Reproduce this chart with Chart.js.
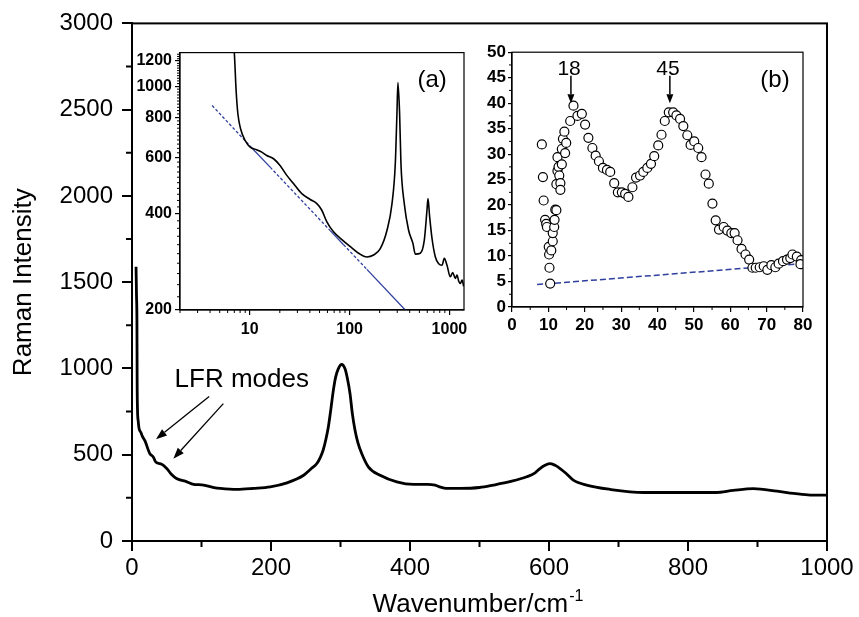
<!DOCTYPE html>
<html><head><meta charset="utf-8">
<script src="https://cdn.jsdelivr.net/npm/chart.js@4.4.1/dist/chart.umd.min.js"></script>
<style>
html,body{margin:0;padding:0;background:#fff;}
#wrap{position:relative;width:859px;height:617px;overflow:hidden;}
canvas{position:absolute;}
</style></head><body>
<div id="wrap">
<canvas id="main" width="859" height="617" style="left:0;top:0;width:859px;height:617px"></canvas>
<canvas id="insA" width="380" height="300" style="left:100px;top:40px;width:380px;height:300px"></canvas>
<canvas id="insB" width="380" height="300" style="left:460px;top:40px;width:380px;height:300px"></canvas>
</div>
<script>
// ---------------- DATA ----------------
// Main spectrum
const mainWavenumber = [5.8, 6.5, 7.1, 7.4, 7.9, 9, 10.1, 12.7, 14.8, 18.7, 25.4, 30.6, 34.5, 42.7, 50, 57, 64, 79, 87, 103, 118, 127, 151, 175, 199, 223, 247, 258, 266, 271, 275, 279, 282.5, 286, 289.7, 293, 296.8, 301.6, 306.5, 310, 313.7, 317, 320.9, 325, 330.5, 340, 357, 381, 405, 425, 436, 444, 452, 472, 500, 520, 545, 568, 580, 587, 595, 601.4, 608, 616, 625, 635, 654, 688, 736, 784, 840, 865, 894, 928, 952, 976, 1000];
const mainIntensity = [1590, 1420, 1273, 923, 763, 693, 653, 630, 608, 580, 508, 487, 456, 445, 420, 385, 362, 343, 330, 324, 310, 305, 299, 305, 314, 337, 381, 420, 449, 485, 526, 590, 661, 760, 873, 950, 998, 1023, 998, 940, 854, 740, 642, 570, 507, 430, 381, 343, 328, 328, 324, 312, 305, 305, 310, 324, 345, 372, 395, 420, 440, 449, 440, 420, 390, 353, 324, 299, 281, 281, 281, 293, 303, 289, 276, 266, 266];
const mainXTickValues = [0, 200, 400, 600, 800, 1000];
const mainXMinorTicks = [100, 300, 500, 700, 900];
const mainYTickValues = [0, 500, 1000, 1500, 2000, 2500, 3000];
const mainYMinorTicks = [250, 750, 1250, 1750, 2250, 2750];

// Inset (a): log-log spectrum and power-law fit line
const insetAWavenumber = [6.5, 7.0, 7.3, 7.6, 8.1, 9.0, 10.1, 11.7, 13.2, 14.8, 17.3, 20.1, 23.5, 27.4, 33.2, 40.3, 47.0, 52.7, 59.2, 69.0, 83.7, 101, 123, 149, 174, 203, 237, 266, 287, 298, 305, 317, 327, 353, 390, 431, 455, 511, 560, 596, 610, 634, 670, 723, 781, 843, 889, 946, 1021, 1080, 1146, 1191, 1240, 1286, 1340, 1389];
const insetAIntensity = [1600, 1273, 969, 821, 736, 677, 646, 634, 623, 608, 594, 566, 527, 497, 462, 443, 430, 410, 377, 351, 332, 316, 301, 293, 297, 311, 355, 430, 573, 821, 1028, 821, 573, 430, 355, 323, 299, 301, 330, 410, 446, 391, 334, 293, 279, 276, 290, 276, 254, 262, 251, 257, 246, 242, 248, 237];
const insetAFitWavenumber = [4.2, 10.1, 16, 64, 87, 149, 361];
const insetAFitIntensity = [871, 650, 559, 354, 320, 268, 200];
const insetAXTickValues = [10, 100, 1000];
const insetAXMinorTicks = [2, 3, 4, 5, 6, 7, 8, 9, 20, 30, 40, 50, 60, 70, 80, 90, 200, 300, 400, 500, 600, 700, 800, 900];
const insetAYTickValues = [200, 400, 600, 800, 1000, 1200];

// Inset (b): LFR intensity vs wavenumber
const insetBWavenumber = [8.2, 8.5, 8.7, 9.1, 9.4, 9.6, 10.1, 10.2, 10.3, 10.5, 10.8, 11.2, 11.2, 11.6, 11.7, 11.9, 12.2, 12.2, 12.5, 12.5, 12.8, 13.0, 13.3, 13.3, 13.7, 13.7, 14.0, 14.4, 14.6, 14.9, 16.0, 16.9, 18.0, 19.2, 20.1, 21.0, 22.1, 23.0, 23.9, 25.0, 26.1, 27.0, 28.1, 29.1, 30.2, 31.1, 32.0, 33.1, 34.1, 35.2, 36.1, 37.2, 38.2, 39.1, 40.2, 41.1, 42.0, 43.1, 44.3, 45.2, 46.2, 47.1, 48.2, 49.1, 50.1, 51.2, 52.1, 53.2, 54.1, 55.1, 56.0, 56.9, 58.2, 59.2, 60.3, 61.2, 62.0, 63.1, 64.2, 65.2, 66.1, 67.0, 68.1, 69.2, 70.2, 71.3, 72.4, 73.3, 74.5, 75.6, 76.5, 77.1, 78.3, 79.5, 79.3];
const insetBIntensity = [31.9, 25.5, 20.9, 17.1, 16.3, 15.7, 11.8, 10.3, 7.7, 4.6, 11.1, 12.9, 14.5, 15.7, 17.1, 19.1, 19.0, 24.1, 26.7, 29.4, 27.5, 25.8, 24.3, 23.0, 28.0, 31.0, 33.0, 34.4, 30.2, 32.2, 36.5, 39.5, 37.5, 37.9, 35.8, 33.2, 31.2, 29.7, 28.6, 27.3, 26.9, 26.5, 24.3, 22.5, 22.5, 22.2, 21.6, 23.5, 25.4, 25.8, 26.5, 27.3, 28.1, 29.6, 31.7, 33.8, 36.5, 38.2, 38.2, 37.6, 36.9, 35.5, 33.7, 31.8, 32.5, 31.2, 29.4, 26.0, 24.2, 20.3, 17.0, 15.2, 15.7, 15.0, 14.5, 14.5, 13.1, 11.4, 10.3, 9.3, 7.7, 7.7, 7.8, 8.0, 7.3, 8.2, 7.8, 8.5, 9.0, 9.3, 9.6, 10.3, 9.9, 9.2, 8.4];
const insetBBaseWavenumber = [6.9, 80];
const insetBBaseIntensity = [4.4, 8.5];
const insetBXTickValues = [0, 10, 20, 30, 40, 50, 60, 70, 80];
const insetBXMinorTicks = [5, 15, 25, 35, 45, 55, 65, 75];
const insetBYTickValues = [0, 5, 10, 15, 20, 25, 30, 35, 40, 45, 50];
const insetBYMinorTicks = [2.5, 7.5, 12.5, 17.5, 22.5, 27.5, 32.5, 37.5, 42.5, 47.5];
const peakLabels = ['18', '45'];
const peakPositions = [16.2, 43.4];

// ---------------- HELPERS ----------------
const FONT = "'Liberation Sans', Arial, Helvetica, sans-serif";
const pts = (xs, ys) => xs.map((x, i) => ({x: x, y: ys[i]}));

function drawArrow(ctx, x1, y1, x2, y2, head, halfW, lw) {
  const a = Math.atan2(y2 - y1, x2 - x1);
  const bx = x2 - head * Math.cos(a), by = y2 - head * Math.sin(a);
  ctx.save();
  ctx.strokeStyle = '#000'; ctx.fillStyle = '#000'; ctx.lineWidth = lw;
  ctx.beginPath(); ctx.moveTo(x1, y1); ctx.lineTo(bx, by); ctx.stroke();
  ctx.beginPath(); ctx.moveTo(x2, y2);
  ctx.lineTo(bx + halfW * Math.sin(a), by - halfW * Math.cos(a));
  ctx.lineTo(bx - halfW * Math.sin(a), by + halfW * Math.cos(a));
  ctx.closePath(); ctx.fill();
  ctx.restore();
}

function extras(cfg) {
  return {
    id: 'extras',
    afterDraw(chart) {
      const ctx = chart.ctx, ca = chart.chartArea, xs = chart.scales.x, ys = chart.scales.y;
      ctx.save();
      ctx.strokeStyle = '#000';
      ctx.lineWidth = cfg.frameWidth;
      ctx.strokeRect(ca.left, ca.top, ca.right - ca.left, ca.bottom - ca.top);
      ctx.lineWidth = cfg.tickWidth;
      ctx.beginPath();
      (cfg.minorX || []).forEach(v => {
        const p = xs.getPixelForValue(v);
        ctx.moveTo(p, ca.bottom); ctx.lineTo(p, ca.bottom + cfg.minorLen);
      });
      (cfg.minorY || []).forEach(v => {
        const p = ys.getPixelForValue(v);
        ctx.moveTo(ca.left, p); ctx.lineTo(ca.left - cfg.minorLen, p);
      });
      ctx.stroke();
      (cfg.arrows || []).forEach(a => {
        drawArrow(ctx, xs.getPixelForValue(a.x1), ys.getPixelForValue(a.y1),
                  xs.getPixelForValue(a.x2), ys.getPixelForValue(a.y2), a.head, a.halfW, a.lw);
      });
      (cfg.texts || []).forEach(t => {
        ctx.font = t.font; ctx.fillStyle = '#000';
        ctx.textAlign = 'center'; ctx.textBaseline = t.baseline || 'alphabetic';
        ctx.fillText(t.text, xs.getPixelForValue(t.x), ys.getPixelForValue(t.y));
      });
      if (cfg.after) cfg.after(chart, ctx);
      ctx.restore();
    }
  };
}

// ---------------- MAIN CHART ----------------
new Chart(document.getElementById('main'), {
  type: 'line',
  data: { datasets: [{
    data: pts(mainWavenumber, mainIntensity),
    borderColor: '#000', borderWidth: 2.8, pointRadius: 0,
    cubicInterpolationMode: 'monotone', fill: false
  }]},
  options: {
    responsive: false, animation: false, devicePixelRatio: 1,
    layout: { padding: { top: 22, right: 32, left: 0, bottom: 0 } },
    plugins: { legend: { display: false }, tooltip: { enabled: false } },
    scales: {
      x: {
        type: 'linear', min: 0, max: 1000,
        afterBuildTicks: s => { s.ticks = mainXTickValues.map(v => ({value: v})); },
        afterFit: s => { s.height = 76; },
        ticks: { font: { family: FONT, size: 24 }, color: '#000', padding: 3, maxRotation: 0, autoSkip: false, callback: v => String(v) },
        grid: { drawOnChartArea: false, color: '#000', lineWidth: 2, tickLength: 10 },
        border: { display: true, color: '#000', width: 2 }
      },
      y: {
        type: 'linear', min: 0, max: 3000,
        afterBuildTicks: s => { s.ticks = mainYTickValues.map(v => ({value: v})); },
        afterFit: s => { s.width = 132; },
        ticks: { font: { family: FONT, size: 24 }, color: '#000', padding: 9, autoSkip: false, callback: v => String(v) },
        grid: { drawOnChartArea: false, color: '#000', lineWidth: 2, tickLength: 10 },
        border: { display: true, color: '#000', width: 2 },
        title: { display: true, text: 'Raman Intensity', color: '#000', font: { family: FONT, size: 26 }, padding: { top: 8, bottom: 0 } }
      }
    }
  },
  plugins: [extras({
    frameWidth: 2, tickWidth: 2, minorLen: 6,
    minorX: mainXMinorTicks, minorY: mainYMinorTicks,
    arrows: [
      { x1: 111, y1: 838, x2: 34.5, y2: 590, head: 11, halfW: 4, lw: 1.3 },
      { x1: 131.4, y1: 796, x2: 59.5, y2: 477, head: 11, halfW: 4, lw: 1.3 }
    ],
    texts: [ { text: 'LFR modes', x: 158, y: 892, font: '26px ' + FONT } ],
    after: (chart, ctx) => {
      const ca = chart.chartArea;
      const main = 'Wavenumber/cm', sup = '-1';
      ctx.fillStyle = '#000'; ctx.textBaseline = 'alphabetic'; ctx.textAlign = 'left';
      ctx.font = '26px ' + FONT; const w1 = ctx.measureText(main).width;
      ctx.font = '16px ' + FONT; const w2 = ctx.measureText(sup).width;
      const cx = (ca.left + ca.right) / 2 - 2;
      const x0 = cx - (w1 + w2) / 2;
      ctx.font = '26px ' + FONT; ctx.fillText(main, x0, 612);
      ctx.font = '16px ' + FONT; ctx.fillText(sup, x0 + w1 + 1, 601);
    }
  })]
});

// ---------------- INSET (a) ----------------
const aYMinor = [];
for (let v = 220; v <= 1260; v += 20) { if (insetAYTickValues.indexOf(v) < 0) aYMinor.push(v); }
const fitDashed = [true, false, true, false, true, false];
new Chart(document.getElementById('insA'), {
  type: 'line',
  data: { datasets: [
    { data: pts(insetAWavenumber, insetAIntensity), borderColor: '#000', borderWidth: 1.6, pointRadius: 0, cubicInterpolationMode: 'monotone', fill: false, order: 0 },
    { data: pts(insetAFitWavenumber, insetAFitIntensity), borderColor: '#2f3f9e', borderWidth: 1.3, pointRadius: 0, fill: false, order: 1,
      segment: { borderDash: c => fitDashed[c.p0DataIndex] ? [3, 2] : [] } }
  ]},
  options: {
    responsive: false, animation: false, devicePixelRatio: 1,
    layout: { padding: { top: 12, right: 16, left: 0, bottom: 0 } },
    plugins: { legend: { display: false }, tooltip: { enabled: false } },
    scales: {
      x: {
        type: 'logarithmic', min: 2, max: 1400,
        afterBuildTicks: s => { s.ticks = insetAXTickValues.map(v => ({value: v})); },
        afterFit: s => { s.height = 30; },
        ticks: { font: { family: FONT, size: 16, weight: 'bold' }, color: '#000', padding: 5, maxRotation: 0, autoSkip: false, callback: v => String(v) },
        grid: { drawOnChartArea: false, color: '#000', lineWidth: 1.2, tickLength: 5 },
        border: { display: true, color: '#000', width: 1.2 }
      },
      y: {
        type: 'logarithmic', min: 200, max: 1275,
        afterBuildTicks: s => { s.ticks = insetAYTickValues.map(v => ({value: v})); },
        afterFit: s => { s.width = 80; },
        ticks: { font: { family: FONT, size: 16, weight: 'bold' }, color: '#000', padding: 3, autoSkip: false, callback: v => String(v) },
        grid: { drawOnChartArea: false, color: '#000', lineWidth: 1.2, tickLength: 5 },
        border: { display: true, color: '#000', width: 1.2 }
      }
    }
  },
  plugins: [extras({
    frameWidth: 1.2, tickWidth: 1, minorLen: 3,
    minorX: insetAXMinorTicks, minorY: aYMinor,
    texts: [ { text: '(a)', x: 670, y: 1041, font: '24px ' + FONT, baseline: 'middle' } ]
  })]
});

// ---------------- INSET (b) ----------------
new Chart(document.getElementById('insB'), {
  type: 'scatter',
  data: { datasets: [
    { type: 'scatter', data: pts(insetBWavenumber, insetBIntensity), pointRadius: 4.5, pointBackgroundColor: '#fff', pointBorderColor: '#000', pointBorderWidth: 1.2, order: 0 },
    { type: 'line', data: pts(insetBBaseWavenumber, insetBBaseIntensity), borderColor: '#2f3f9e', borderWidth: 1.5, borderDash: [6, 3], pointRadius: 0, fill: false, order: 1 }
  ]},
  options: {
    responsive: false, animation: false, devicePixelRatio: 1,
    layout: { padding: { top: 12, right: 37, left: 0, bottom: 0 } },
    plugins: { legend: { display: false }, tooltip: { enabled: false } },
    scales: {
      x: {
        type: 'linear', min: 0, max: 80,
        afterBuildTicks: s => { s.ticks = insetBXTickValues.map(v => ({value: v})); },
        afterFit: s => { s.height = 33; },
        ticks: { font: { family: FONT, size: 17, weight: 'bold' }, color: '#000', padding: 3, maxRotation: 0, autoSkip: false, callback: v => String(v) },
        grid: { drawOnChartArea: false, color: '#000', lineWidth: 1.2, tickLength: 5 },
        border: { display: true, color: '#000', width: 1.2 }
      },
      y: {
        type: 'linear', min: 0, max: 50,
        afterBuildTicks: s => { s.ticks = insetBYTickValues.map(v => ({value: v})); },
        afterFit: s => { s.width = 52; },
        ticks: { font: { family: FONT, size: 17, weight: 'bold' }, color: '#000', padding: 2, autoSkip: false, callback: v => String(v) },
        grid: { drawOnChartArea: false, color: '#000', lineWidth: 1.2, tickLength: 4 },
        border: { display: true, color: '#000', width: 1.2 }
      }
    }
  },
  plugins: [extras({
    frameWidth: 1.2, tickWidth: 1, minorLen: 3,
    minorX: insetBXMinorTicks, minorY: insetBYMinorTicks,
    arrows: peakPositions.map(p => ({ x1: p, y1: 45.4, x2: p, y2: 40, head: 9, halfW: 3.5, lw: 1.5 })),
    texts: peakLabels.map((t, i) => ({ text: t, x: peakPositions[i] - 0.5, y: 45.6, font: '21px ' + FONT }))
      .concat([{ text: '(b)', x: 72.3, y: 44.4, font: '24px ' + FONT, baseline: 'middle' }])
  })]
});
</script>
</body></html>
